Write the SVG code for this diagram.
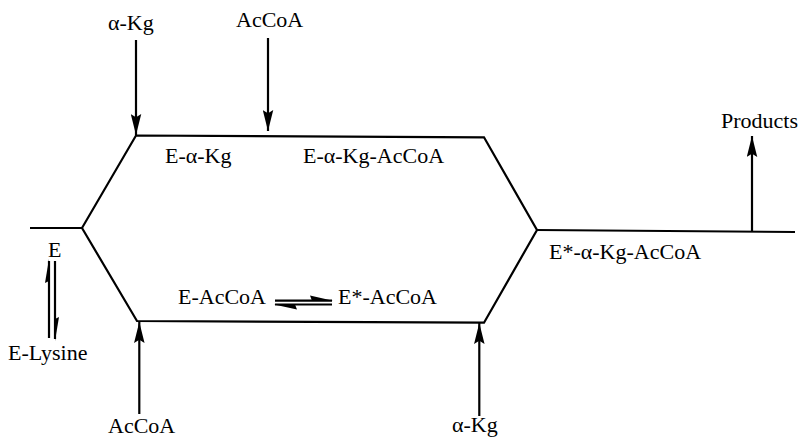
<svg xmlns="http://www.w3.org/2000/svg" width="798" height="437" viewBox="0 0 798 437">
<defs>
<style>
.t{font-family:'Liberation Serif','Times New Roman','DejaVu Serif',serif;font-size:22px;fill:#000}
.ln{stroke:#000;stroke-width:2.2;fill:none}
</style>
<marker id="ah" viewBox="0 0 20 10" refX="20" refY="5" markerWidth="21" markerHeight="11" markerUnits="userSpaceOnUse" orient="auto">
<path d="M0,0 L20,5 L0,10 L3,5 Z" fill="#000"/>
</marker>
</defs>
<rect width="798" height="437" fill="#fff"/>
<g id="connectors">
<polyline class="ln" points="30,228 82,228 136,135.5 484,137.3 537,230 484,322.7 137,321 82,228"/>
<line class="ln" x1="537" y1="230" x2="795" y2="232"/>
<line class="ln" x1="136" y1="40" x2="136" y2="135" marker-end="url(#ah)"/>
<line class="ln" x1="268" y1="38" x2="268" y2="131" marker-end="url(#ah)"/>
<line class="ln" x1="139.3" y1="414" x2="139.3" y2="322" marker-end="url(#ah)"/>
<line class="ln" x1="479.3" y1="416" x2="479.3" y2="323" marker-end="url(#ah)"/>
<line class="ln" x1="752" y1="231" x2="752" y2="136" marker-end="url(#ah)"/>
<line class="ln" x1="49" y1="338" x2="49" y2="261"/>
<path d="M49,259 L49,281 L45,283 Z" fill="#000"/>
<line class="ln" x1="55" y1="261" x2="55" y2="339"/>
<path d="M55,341 L55,319 L59,317 Z" fill="#000"/>
<line class="ln" x1="275" y1="300.7" x2="332" y2="300.7"/>
<path d="M333,300.7 L312,300.7 L310,295.5 Z" fill="#000"/>
<line class="ln" x1="275" y1="304.5" x2="332" y2="304.5"/>
<path d="M274,304.5 L295,304.5 L297,309.5 Z" fill="#000"/>
</g>
<g id="n-akg-top"><text class="t" x="108" y="30">α-Kg</text></g>
<g id="n-accoa-top"><text class="t" x="236" y="27">AcCoA</text></g>
<g id="n-e-akg"><text class="t" x="165" y="163">E-α-Kg</text></g>
<g id="n-e-akg-accoa"><text class="t" x="303" y="163">E-α-Kg-AcCoA</text></g>
<g id="n-products"><text class="t" x="721" y="128">Products</text></g>
<g id="n-estar-akg-accoa"><text class="t" x="549" y="259">E*-α-Kg-AcCoA</text></g>
<g id="n-e"><text class="t" x="48" y="257">E</text></g>
<g id="n-e-lysine"><text class="t" x="8" y="360">E-Lysine</text></g>
<g id="n-e-accoa"><text class="t" x="178" y="304">E-AcCoA</text></g>
<g id="n-estar-accoa"><text class="t" x="338" y="304">E*-AcCoA</text></g>
<g id="n-accoa-bottom"><text class="t" x="108" y="433">AcCoA</text></g>
<g id="n-akg-bottom"><text class="t" x="452" y="432">α-Kg</text></g>
</svg>
